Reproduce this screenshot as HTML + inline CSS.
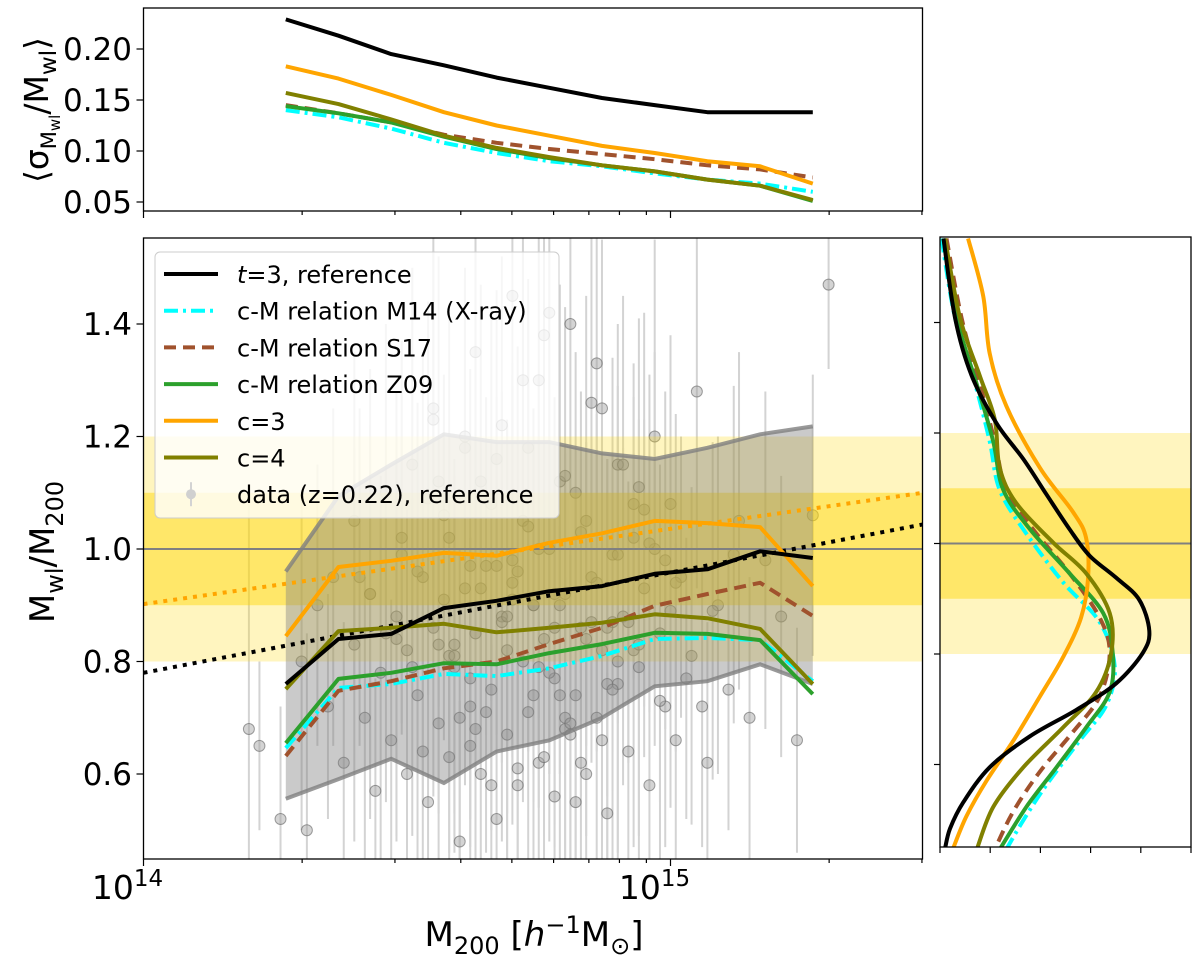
<!DOCTYPE html>
<html><head><meta charset="utf-8"><style>
html,body{margin:0;padding:0;background:#fff;overflow:hidden;width:1200px;height:962px;}
svg{display:block;font-family:"DejaVu Sans","Liberation Sans",sans-serif;}
</style></head><body>
<svg id="fig" width="1200" height="962" viewBox="0 0 1200 962" xmlns="http://www.w3.org/2000/svg">
<defs>
<clipPath id="cm"><rect x="143.5" y="238" width="779" height="621"/></clipPath>
<clipPath id="ct"><rect x="143.5" y="8" width="779" height="203"/></clipPath>
<clipPath id="cr"><rect x="940" y="237" width="251" height="610"/></clipPath>
</defs>
<g id="main" clip-path="url(#cm)"></g>
<g id="top" clip-path="url(#ct)"></g>
<g id="right" clip-path="url(#cr)"></g>
<g id="axes"></g>
</svg>
<script>
// ---------- data ----------
const binLogM = [14.27,14.37,14.47,14.57,14.67,14.77,14.87,14.97,15.07,15.17,15.27];
const ratioRef = [0.76,0.84,0.849,0.895,0.908,0.925,0.934,0.956,0.964,0.996,0.984];
const ratioC3 = [0.845,0.968,0.979,0.993,0.988,1.011,1.028,1.05,1.046,1.039,0.934];
const ratioC4 = [0.751,0.854,0.86,0.867,0.852,0.86,0.869,0.884,0.877,0.858,0.76];
const ratioZ09 = [0.655,0.769,0.78,0.797,0.795,0.815,0.831,0.851,0.849,0.838,0.742];
const ratioM14 = [0.646,0.753,0.76,0.778,0.774,0.788,0.81,0.84,0.842,0.838,0.765];
const ratioS17 = [0.632,0.748,0.765,0.788,0.8,0.831,0.86,0.899,0.92,0.94,0.881];
const bandUpper = [0.96,1.094,1.15,1.204,1.19,1.19,1.17,1.16,1.18,1.204,1.218];
const bandLower = [0.556,0.591,0.627,0.584,0.64,0.66,0.70,0.756,0.765,0.795,0.76];

const sigRef = [0.229,0.213,0.195,0.184,0.172,0.162,0.152,0.145,0.138,0.138,0.138];
const sigC3 = [0.183,0.171,0.155,0.138,0.125,0.115,0.105,0.098,0.090,0.085,0.068];
const sigC4 = [0.157,0.146,0.131,0.115,0.103,0.094,0.086,0.080,0.072,0.066,0.052];
const sigZ09 = [0.144,0.137,0.128,0.114,0.102,0.093,0.086,0.080,0.072,0.066,0.051];
const sigM14 = [0.140,0.133,0.122,0.108,0.098,0.090,0.085,0.078,0.072,0.068,0.060];
const sigS17 = [0.145,0.137,0.128,0.116,0.108,0.102,0.097,0.092,0.086,0.082,0.074];

const fitLogM = [14.0,15.48];
const fitRef = [0.78,1.044];
const fitC3 = [0.902,1.10];

const pdfRefV = [1.552,1.408,1.304,1.217,1.153,1.089,1.026,0.978,0.938,0.898,0.842,0.802,0.747,0.699,0.651,0.595,0.531,0.484,0.448];
const pdfRefD = [0.07,0.30,0.63,1.13,1.66,2.12,2.58,2.98,3.51,3.97,4.17,4.04,3.51,2.72,1.79,0.99,0.46,0.20,0.10];
const pdfC3V = [1.552,1.448,1.344,1.249,1.137,1.057,1.010,0.938,0.866,0.794,0.723,0.643,0.571,0.507,0.448];
const pdfC3D = [0.56,0.86,0.99,1.32,1.99,2.65,2.91,2.95,2.81,2.45,1.99,1.46,0.93,0.53,0.26];
const pdfC4V = [1.552,1.408,1.304,1.225,1.137,1.073,1.002,0.946,0.874,0.802,0.731,0.667,0.595,0.523,0.448];
const pdfC4D = [0.10,0.40,0.79,1.09,1.19,1.52,2.25,2.91,3.38,3.41,3.11,2.45,1.66,1.06,0.74];
const pdfZ09V = [1.552,1.408,1.289,1.185,1.097,1.026,0.946,0.874,0.802,0.731,0.667,0.595,0.523,0.448];
const pdfZ09D = [0.07,0.33,0.73,1.06,1.26,1.79,2.58,3.25,3.44,3.38,2.91,2.32,1.72,1.20];
const pdfM14V = [1.552,1.408,1.289,1.185,1.097,1.018,0.930,0.858,0.778,0.707,0.643,0.563,0.499,0.448];
const pdfM14D = [0.03,0.30,0.70,0.99,1.19,1.72,2.45,3.18,3.48,3.31,2.78,2.12,1.66,1.33];
const pdfS17V = [1.552,1.408,1.289,1.185,1.097,1.026,0.946,0.866,0.802,0.723,0.659,0.587,0.515,0.448];
const pdfS17D = [0.13,0.43,0.79,1.09,1.32,1.85,2.58,3.18,3.38,3.18,2.65,1.99,1.46,1.10];

const dataLogM = [14.20,14.22,14.26,14.30,14.31,14.33,14.35,14.36,14.38,14.40,14.40,14.42,14.43,14.44,14.45,14.46,14.47,14.48,14.49,14.50,14.50,14.51,14.52,14.53,14.54,14.55,14.55,14.56,14.57,14.58,14.58,14.59,14.60,14.61,14.61,14.62,14.63,14.63,14.64,14.65,14.66,14.66,14.67,14.68,14.68,14.69,14.70,14.70,14.71,14.72,14.72,14.73,14.74,14.75,14.75,14.76,14.77,14.78,14.78,14.79,14.80,14.80,14.81,14.82,14.83,14.84,14.84,14.85,14.86,14.87,14.87,14.88,14.89,14.90,14.90,14.91,14.92,14.93,14.94,14.95,14.96,14.97,14.98,14.99,15.00,15.01,15.02,15.04,15.05,15.07,15.09,15.11,15.13,15.15,15.18,15.21,15.24,15.27,15.30,14.56,14.62,14.70,14.77,14.83,14.89,14.64,14.74,14.80,14.86,14.93,14.52,14.68,14.79,14.97,
14.46,14.49,14.53,14.56,14.59,14.62,14.65,14.67,14.69,14.71,14.73,14.75,14.76,14.78,14.81,14.82,14.84,14.85,14.88,14.90,14.92,14.95,14.98,15.01,14.58,14.61,14.66,14.71,14.74,14.77,14.79,14.83,14.87,14.91,14.94,14.99,15.03,15.08,14.54,14.60,14.64,14.69,14.72,14.76,14.80,14.85,14.89,14.96,14.43,14.51,14.57,14.63,14.67,14.73,14.78,14.82,14.86,14.90,14.94,15.00,15.06,15.12,14.48,14.55,14.62,14.70,14.75,14.81,14.88,14.93,14.41,14.59,14.66,14.74];
const dataRatio = [0.68,0.65,0.52,0.80,0.50,0.90,0.72,0.95,0.62,0.83,1.05,0.70,0.92,0.57,0.78,1.10,0.66,0.88,0.99,0.60,0.82,1.15,0.74,0.95,0.55,0.86,1.25,0.69,0.91,0.63,1.02,0.79,0.48,0.93,1.18,0.72,0.85,1.35,0.60,0.97,0.75,1.08,0.52,0.88,1.22,0.67,0.94,1.45,0.58,0.80,1.05,0.71,0.90,0.62,1.30,0.84,1.00,0.56,0.77,1.12,0.68,0.92,1.40,0.74,0.86,0.60,1.05,0.95,0.70,0.82,1.25,0.53,0.99,0.76,1.15,0.88,0.64,1.02,0.79,0.93,0.58,1.20,0.85,0.72,1.08,0.66,0.95,0.81,1.28,0.62,0.90,0.75,1.05,0.70,0.98,0.88,0.66,1.06,1.47,0.83,0.65,0.98,0.78,0.62,0.87,1.12,0.90,0.70,1.33,0.82,0.96,0.87,0.74,1.00,
0.85,1.02,0.64,1.12,0.83,0.97,0.71,1.16,0.88,0.61,1.04,0.79,1.38,0.92,0.69,1.10,0.84,1.26,0.76,0.99,0.87,1.07,0.73,0.94,0.81,1.20,0.58,0.96,0.74,1.42,0.90,1.03,0.66,1.15,0.83,0.98,0.77,0.89,1.09,0.70,0.93,0.82,1.30,0.63,1.13,0.87,0.75,1.01,0.92,0.79,1.06,0.68,0.97,1.18,0.86,0.55,0.94,0.80,1.11,0.89,0.72,0.99,0.84,1.23,0.77,0.91,1.00,0.67,0.86,1.08,0.95,0.81];
const dataErr = [0.40,0.15,0.20,0.30,0.35,0.25,0.20,0.30,0.25,0.35,0.30,0.25,0.30,0.20,0.35,0.30,0.25,0.40,0.30,0.30,0.25,0.35,0.30,0.40,0.25,0.30,0.35,0.30,0.25,0.35,0.40,0.30,0.25,0.35,0.30,0.25,0.40,0.30,0.35,0.30,0.25,0.35,0.30,0.40,0.30,0.25,0.35,0.30,0.30,0.25,0.40,0.30,0.35,0.25,0.30,0.35,0.40,0.25,0.30,0.35,0.30,0.25,0.30,0.35,0.30,0.30,0.40,0.25,0.30,0.35,0.30,0.25,0.35,0.30,0.25,0.30,0.35,0.25,0.30,0.30,0.25,0.35,0.30,0.25,0.30,0.35,0.25,0.30,0.35,0.25,0.30,0.25,0.30,0.25,0.30,0.25,0.20,0.25,0.15,0.30,0.25,0.35,0.30,0.25,0.30,0.35,0.30,0.25,0.30,0.35,0.30,0.25,0.30,0.35,
0.30,0.35,0.25,0.40,0.30,0.35,0.25,0.30,0.35,0.30,0.40,0.25,0.30,0.35,0.30,0.25,0.35,0.30,0.40,0.30,0.25,0.35,0.30,0.30,0.35,0.30,0.25,0.40,0.30,0.35,0.30,0.25,0.35,0.30,0.40,0.30,0.25,0.30,0.35,0.30,0.25,0.40,0.30,0.35,0.30,0.25,0.35,0.30,0.40,0.30,0.25,0.35,0.30,0.30,0.35,0.25,0.30,0.40,0.30,0.35,0.25,0.30,0.35,0.30,0.25,0.40,0.30,0.35,0.30,0.25,0.30,0.35];

// ---------- axis functions ----------
const xS = m => 143.5 + (m - 14) * 527;
const yM = v => 549 - (v - 1) * 562.5;
const yT = s => 202 - (s - 0.05) * 1020;
const xR = d => 940 + d * 50.2;
const yR = v => 543.5 - (v - 1) * 552.5;
const clampY = y => Math.max(238, Math.min(859, y));

const NS = 'http://www.w3.org/2000/svg';
function mk(tag, attrs, parent) {
  const el = document.createElementNS(NS, tag);
  for (const k in attrs) el.setAttribute(k, attrs[k]);
  parent.appendChild(el);
  return el;
}
const gMain = document.getElementById('main');
const gTop = document.getElementById('top');
const gRight = document.getElementById('right');
const gAx = document.getElementById('axes');

function polyPts(xs, ys, fx, fy) { return xs.map((x, i) => fx(x).toFixed(1) + ',' + fy(ys[i]).toFixed(1)).join(' '); }

// ---------- main panel ----------
dataLogM.forEach((m, i) => {
  const l = mk('line', {x1: xS(m), x2: xS(m), y1: clampY(yM(dataRatio[i] + dataErr[i])), y2: clampY(yM(dataRatio[i] - dataErr[i])), stroke: '#d3d3d3', 'stroke-width': 2}, gMain);
  
  
});
dataLogM.forEach((m, i) => {
  const c = mk('circle', {cx: xS(m), cy: yM(dataRatio[i]), r: 5.5, fill: 'rgba(160,160,160,0.45)', stroke: 'rgba(100,100,100,0.6)', 'stroke-width': 1}, gMain);
  
  
});
let b = mk('rect', {x: 143.5, y: yM(1.2), width: 779, height: yM(0.8) - yM(1.2), fill: 'rgba(255,215,0,0.25)'}, gMain);


b = mk('rect', {x: 143.5, y: yM(1.1), width: 779, height: yM(0.9) - yM(1.1), fill: 'rgba(255,215,0,0.45)'}, gMain);


b = mk('line', {x1: 143.5, x2: 922.5, y1: yM(1), y2: yM(1), stroke: '#808080', 'stroke-width': 2}, gMain);


const bandPts = binLogM.map((m, i) => xS(m) + ',' + yM(bandUpper[i])).concat(binLogM.slice().reverse().map((m, j) => { const i = binLogM.length - 1 - j; return xS(m) + ',' + yM(bandLower[i]); })).join(' ');
b = mk('polygon', {points: bandPts, fill: 'rgba(128,128,128,0.42)'}, gMain);


b = mk('polyline', {points: polyPts(binLogM, bandUpper, xS, yM), fill: 'none', stroke: '#808080', 'stroke-width': 4, opacity: 0.8}, gMain);


b = mk('polyline', {points: polyPts(binLogM, bandLower, xS, yM), fill: 'none', stroke: '#808080', 'stroke-width': 4, opacity: 0.8}, gMain);


b = mk('polyline', {points: polyPts(fitLogM, fitC3, xS, yM), fill: 'none', stroke: '#ffa500', 'stroke-width': 4, 'stroke-dasharray': '4 6'}, gMain);


b = mk('polyline', {points: polyPts(fitLogM, fitRef, xS, yM), fill: 'none', stroke: '#000', 'stroke-width': 4, 'stroke-dasharray': '4 6'}, gMain);



const series = [
  {name: 'm14', main: ratioM14, top: sigM14, pv: pdfM14V, pd: pdfM14D, color: '#00ffff', dash: '14 5 3 5'},
  {name: 's17', main: ratioS17, top: sigS17, pv: pdfS17V, pd: pdfS17D, color: '#a0522d', dash: '12 7'},
  {name: 'z09', main: ratioZ09, top: sigZ09, pv: pdfZ09V, pd: pdfZ09D, color: '#2ca02c', dash: ''},
  {name: 'c3', main: ratioC3, top: sigC3, pv: pdfC3V, pd: pdfC3D, color: '#ffa500', dash: ''},
  {name: 'c4', main: ratioC4, top: sigC4, pv: pdfC4V, pd: pdfC4D, color: '#808000', dash: ''},
  {name: 'reference', main: ratioRef, top: sigRef, pv: pdfRefV, pd: pdfRefD, color: '#000000', dash: ''}
];

function smoothPath(px, py) {
  let d = 'M' + px[0].toFixed(1) + ',' + py[0].toFixed(1);
  for (let i = 0; i < px.length - 1; i++) {
    const x0 = px[Math.max(i - 1, 0)], y0 = py[Math.max(i - 1, 0)];
    const x1 = px[i], y1 = py[i], x2 = px[i + 1], y2 = py[i + 1];
    const x3 = px[Math.min(i + 2, px.length - 1)], y3 = py[Math.min(i + 2, px.length - 1)];
    d += ' C' + (x1 + (x2 - x0) / 6).toFixed(1) + ',' + (y1 + (y2 - y0) / 6).toFixed(1) + ' ' + (x2 - (x3 - x1) / 6).toFixed(1) + ',' + (y2 - (y3 - y1) / 6).toFixed(1) + ' ' + x2.toFixed(1) + ',' + y2.toFixed(1);
  }
  return d;
}

series.forEach(s => {
  const a = {points: polyPts(binLogM, s.main, xS, yM), fill: 'none', stroke: s.color, 'stroke-width': 4, 'stroke-linejoin': 'round'};
  if (s.dash) a['stroke-dasharray'] = s.dash;
  const l = mk('polyline', a, gMain);
  
  
  const a2 = {points: polyPts(binLogM, s.top, xS, yT), fill: 'none', stroke: s.color, 'stroke-width': 4, 'stroke-linejoin': 'round'};
  if (s.dash) a2['stroke-dasharray'] = s.dash;
  const t = mk('polyline', a2, gTop);
  
  
});

// ---------- right panel ----------
b = mk('rect', {x: 940, y: yR(1.2), width: 251, height: yR(0.8) - yR(1.2), fill: 'rgba(255,215,0,0.25)'}, gRight);


b = mk('rect', {x: 940, y: yR(1.1), width: 251, height: yR(0.9) - yR(1.1), fill: 'rgba(255,215,0,0.45)'}, gRight);


b = mk('line', {x1: 940, x2: 1191, y1: yR(1), y2: yR(1), stroke: '#808080', 'stroke-width': 2}, gRight);


series.forEach(s => {
  const a = {d: smoothPath(s.pd.map(xR), s.pv.map(yR)), fill: 'none', stroke: s.color, 'stroke-width': 4};
  if (s.dash) a['stroke-dasharray'] = s.dash;
  const p = mk('path', a, gRight);
  
  
});

// ---------- axes ----------
function frame(x, y, w, h, name) {
  const r = mk('rect', {x: x, y: y, width: w, height: h, fill: 'none', stroke: '#000', 'stroke-width': 1.3}, gAx);
  
  
}
frame(143.5, 8, 779, 203, 'top-panel-frame');
frame(143.5, 238, 779, 621, 'main-panel-frame');
frame(940, 237, 251, 610, 'right-panel-frame');

function tick(x1, y1, x2, y2) {
  const t = mk('line', {x1: x1, y1: y1, x2: x2, y2: y2, stroke: '#000', 'stroke-width': 1.2}, gAx);
  
  
}
function label(txt, x, y, size, anchor, name) {
  const t = mk('text', {x: x, y: y, 'font-size': size, 'text-anchor': anchor, fill: '#000'}, gAx);
  t.textContent = txt;
  
  
  return t;
}
const majorLog = [14, 15];
const minorMult = [2,3,4,5,6,7,8,9,20,30];
majorLog.forEach(m => {
  tick(xS(m), 859, xS(m), 866);
  tick(xS(m), 211, xS(m), 218);
});
minorMult.forEach(k => {
  const m = 14 + Math.log10(k);
  tick(xS(m), 859, xS(m), 863);
  tick(xS(m), 211, xS(m), 215);
});
[14, 15].forEach(m => {
  const t = label('10', xS(m) - 16, 899, 33, 'middle', 'x-tick-label');
  const s = mk('tspan', {dy: -13, 'font-size': 23}, t);
  s.textContent = String(m);
});
const mainYTicks = [0.6, 0.8, 1.0, 1.2, 1.4];
const mainYLabels = ['0.6', '0.8', '1.0', '1.2', '1.4'];
mainYTicks.forEach((v, i) => {
  tick(136.5, yM(v), 143.5, yM(v));
  label(mainYLabels[i], 132, yM(v) + 11, 31, 'end', 'y-tick-label');
});
const topYTicks = [0.05, 0.10, 0.15, 0.20];
const topYLabels = ['0.05', '0.10', '0.15', '0.20'];
topYTicks.forEach((v, i) => {
  tick(136.5, yT(v), 143.5, yT(v));
  label(topYLabels[i], 132, yT(v) + 11, 31, 'end', 'top-y-tick-label');
});
[0.6, 0.8, 1.0, 1.2, 1.4].forEach(v => tick(934, yR(v), 940, yR(v)));
[0, 1, 2, 3, 4, 5].forEach(d => tick(xR(d), 847, xR(d), 853));

let t = label('', 534, 946, 34, 'middle', 'x-axis-title');
t.innerHTML = 'M<tspan font-size="24" dy="8">200</tspan><tspan dy="-8"> [</tspan><tspan font-style="italic">h</tspan><tspan font-size="24" dy="-13">−1</tspan><tspan dy="13">M</tspan><tspan font-size="24" dy="8">⊙</tspan><tspan dy="-8">]</tspan>';
t = mk('text', {x: 0, y: 0, 'font-size': 34, 'text-anchor': 'middle', transform: 'translate(54,552) rotate(-90)'}, gAx);
t.innerHTML = 'M<tspan font-size="24" dy="9">wl</tspan><tspan dy="-9">/M</tspan><tspan font-size="24" dy="9">200</tspan>';


t = mk('text', {x: 0, y: 0, 'font-size': 33, 'text-anchor': 'middle', transform: 'translate(48,110) rotate(-90)'}, gAx);
t.innerHTML = '⟨σ<tspan font-size="21" dy="8">M</tspan><tspan font-size="15" dy="4">wl</tspan><tspan dy="-12">/M</tspan><tspan font-size="23" dy="8">wl</tspan><tspan dy="-8">⟩</tspan>';



// ---------- legend ----------
const lg = mk('g', {}, gAx);


b = mk('rect', {x: 155, y: 252, width: 404, height: 266, rx: 5, fill: 'rgba(255,255,255,0.8)', stroke: '#cccccc', 'stroke-width': 1}, lg);


const legendLabels = ['t=3, reference', 'c-M relation M14 (X-ray)', 'c-M relation S17', 'c-M relation Z09', 'c=3', 'c=4', 'data (z=0.22), reference'];
const legendColors = ['#000000', '#00ffff', '#a0522d', '#2ca02c', '#ffa500', '#808000', '#c0c0c0'];
const legendDash = ['', '14 5 3 5', '12 7', '', '', '', ''];
legendLabels.forEach((txt, i) => {
  const y = 274 + i * 36.7;
  if (i < 6) {
    const a = {x1: 164, x2: 218, y1: y, y2: y, stroke: legendColors[i], 'stroke-width': 4};
    if (legendDash[i]) a['stroke-dasharray'] = legendDash[i];
    const l = mk('line', a, lg);
    
    
  } else {
    const l = mk('line', {x1: 191, x2: 191, y1: y - 12, y2: y + 12, stroke: '#d3d3d3', 'stroke-width': 2}, lg);
    
    
    const c = mk('circle', {cx: 191, cy: y, r: 5, fill: '#d0d0d0'}, lg);
    
    
  }
  const tx = mk('text', {x: 237, y: y + 9, 'font-size': 24}, lg);
  if (i === 0) {
    tx.innerHTML = '<tspan font-style="italic">t</tspan>=3, reference';
  } else {
    tx.textContent = txt;
  }
  
  
});
</script>
</body></html>
